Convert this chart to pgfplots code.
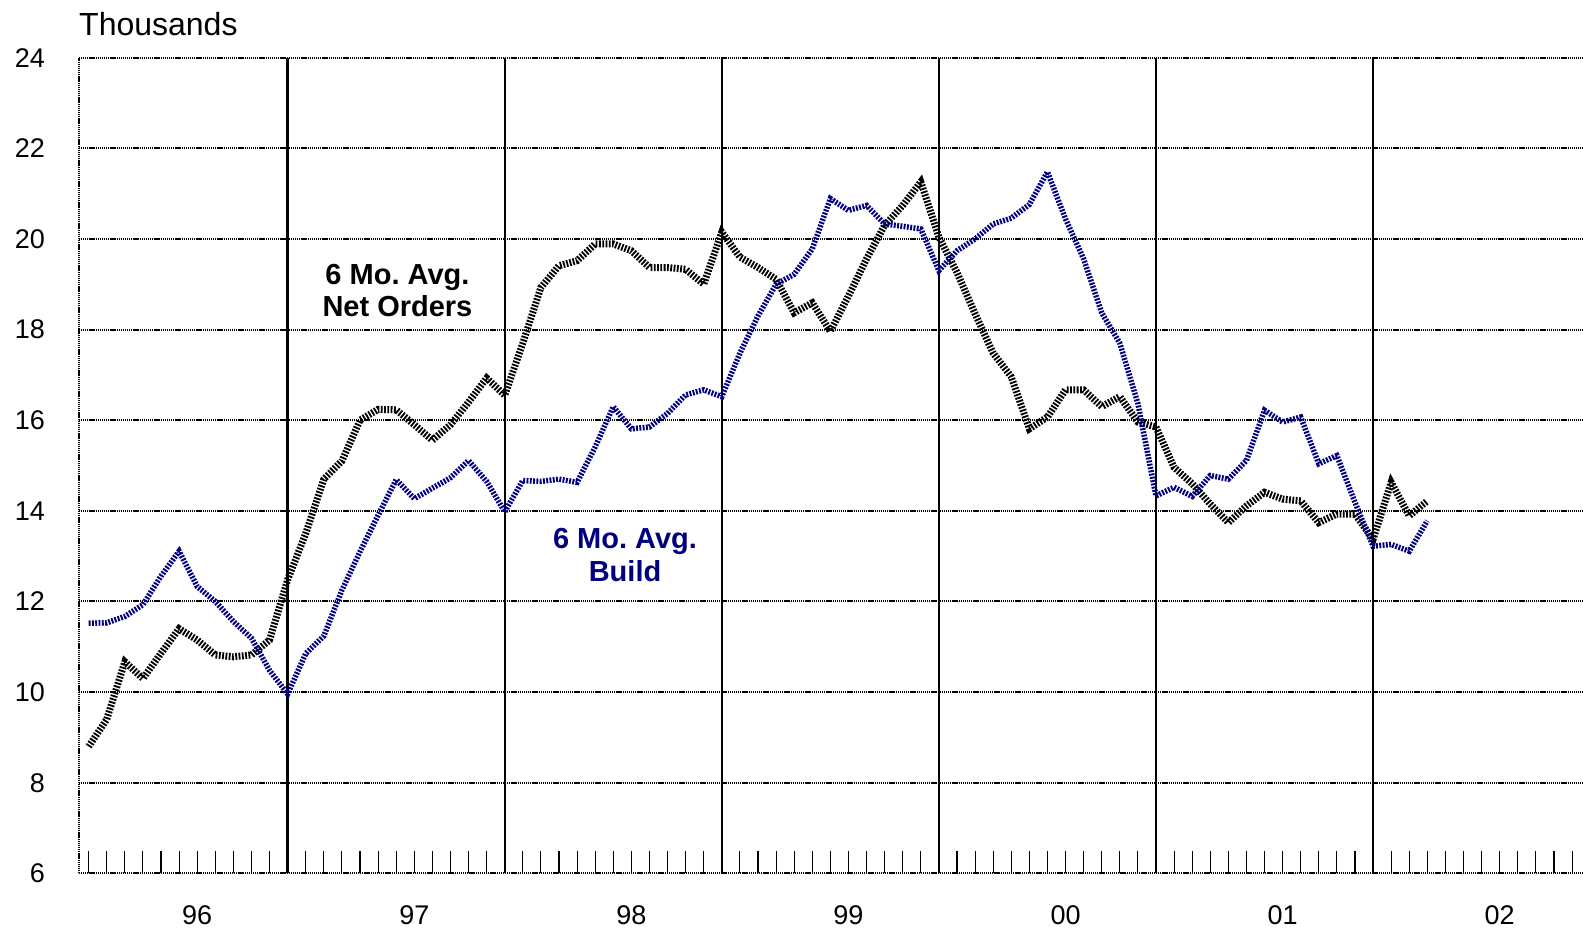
\documentclass[border=0pt]{standalone}
\usepackage{fontspec}
\setmainfont{Liberation Sans}
\frenchspacing
\usepackage{pgfplots}
\usepackage{pgfplotstable}
\pgfplotsset{compat=1.18}
\definecolor{buildblue}{RGB}{0,0,128}

% month index (1 = Feb 1996), 6-month averages in thousands
\pgfplotstableread{
m  orders build
1  8.80  11.52
2  9.40  11.53
3  10.67 11.67
4  10.30 11.93
5  10.86 12.56
6  11.40 13.11
7  11.15 12.33
8  10.82 12.00
9  10.78 11.56
10 10.82 11.19
11 11.15 10.48
12 12.48 9.96
13 13.50 10.85
14 14.70 11.24
15 15.10 12.25
16 16.00 13.10
17 16.24 13.90
18 16.23 14.69
19 15.90 14.27
20 15.56 14.50
21 15.90 14.73
22 16.40 15.11
23 16.93 14.65
24 16.55 13.98
25 17.70 14.67
26 18.93 14.65
27 19.41 14.70
28 19.52 14.63
29 19.89 15.41
30 19.89 16.30
31 19.74 15.81
32 19.37 15.85
33 19.37 16.15
34 19.33 16.56
35 19.00 16.67
36 20.15 16.52
37 19.60 17.48
38 19.37 18.30
39 19.11 19.00
40 18.37 19.22
41 18.59 19.78
42 17.96 20.89
43 18.74 20.63
44 19.56 20.74
45 20.30 20.33
46 20.74 20.28
47 21.26 20.22
48 20.04 19.30
49 19.26 19.74
50 18.35 20.00
51 17.48 20.33
52 16.96 20.46
53 15.81 20.76
54 16.07 21.48
55 16.67 20.44
56 16.67 19.56
57 16.30 18.37
58 16.52 17.70
59 15.96 16.37
60 15.85 14.33
61 14.96 14.52
62 14.60 14.32
63 14.15 14.78
64 13.74 14.70
65 14.11 15.11
66 14.41 16.22
67 14.26 15.96
68 14.22 16.07
69 13.74 15.04
70 13.93 15.22
71 13.93 14.19
72 13.37 13.22
73 14.63 13.26
74 13.89 13.11
75 14.22 13.78
}\avgdata

\begin{document}
\begin{tikzpicture}
\begin{axis}[
  at={(78.7bp,54.6bp)}, anchor=south west,
  scale only axis, width=1511.5bp, height=815.7bp,
  xmin=0.45, xmax=84, ymin=6, ymax=24,
  xtick={12,24,...,72}, xticklabels={},
  minor xtick={1,2,...,83},
  ytick={6,8,...,24},
  extra x ticks={7,19,31,43,55,67,79},
  extra x tick labels={96,97,98,99,00,01,02},
  extra x tick style={grid=none, major tick length=0pt},
  tick pos=left,
  xmajorgrids, ymajorgrids,
  x grid style={black, line width=2.3bp, solid},
  y grid style={black, line width=2bp, dash pattern=on 1.3bp off 0.8bp},
  separate axis lines,
  x axis line style={draw=none},
  y axis line style={black, line width=2bp, dash pattern=on 1.3bp off 0.8bp},
  major tick length=0pt,
  minor tick length=22bp,
  minor tick style={black, line width=1.1bp, solid},
  tick label style={font=\fontsize{27bp}{32bp}\selectfont, inner sep=0pt},
  /pgf/number format/assume math mode=true,
  yticklabel style={anchor=east, xshift=-33.7bp},
  xticklabel style={anchor=base, yshift=-50.6bp},
]
\addplot[black, line width=7bp, dash pattern=on 1.8bp off 1.5bp] table[x=m, y=orders] {\avgdata};
\addplot[buildblue, line width=5.5bp, dash pattern=on 1.9bp off 1.4bp] table[x=m, y=build] {\avgdata};

\node[anchor=base, inner sep=0pt, font=\bfseries\fontsize{29bp}{32bp}\selectfont] at (axis cs:18.07,18.985) {6 Mo. Avg.};
\node[anchor=base, inner sep=0pt, font=\bfseries\fontsize{29bp}{32bp}\selectfont] at (axis cs:18.07,18.28) {Net Orders};
\node[anchor=base, inner sep=0pt, text=buildblue, font=\bfseries\fontsize{29bp}{32bp}\selectfont] at (axis cs:30.65,13.16) {6 Mo. Avg.};
\node[anchor=base, inner sep=0pt, text=buildblue, font=\bfseries\fontsize{29bp}{32bp}\selectfont] at (axis cs:30.65,12.45) {Build};
\end{axis}
\node[anchor=base west, inner sep=0pt, font=\fontsize{32bp}{38bp}\selectfont] at (79bp,892bp) {Thousands};
\pgfresetboundingbox
\path[use as bounding box] (0,0) rectangle (1583bp,928bp);
\end{tikzpicture}
\end{document}
